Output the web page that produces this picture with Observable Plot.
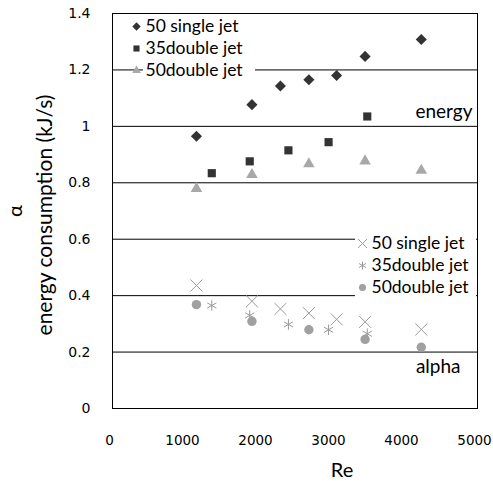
<!DOCTYPE html>
<html>
<head>
<meta charset="utf-8">
<script src="https://cdn.jsdelivr.net/npm/d3@7"></script>
<script src="https://cdn.jsdelivr.net/npm/@observablehq/plot@0.6"></script>
<style>
  html, body { margin: 0; padding: 0; background: #fff; }
  #chart svg { display: block; }
</style>
</head>
<body>
<div id="chart"></div>
<script>
// ---- data ----
const seriesNames = ["50 single jet", "35double jet", "50double jet"];

const re50single = [1150, 1910, 2300, 2690, 3070, 3460, 4230];
const re35double = [1360, 1880, 2410, 2960, 3490];
const re50double = [1150, 1910, 2690, 3460, 4230];

const energy50single = [0.965, 1.077, 1.143, 1.165, 1.180, 1.248, 1.308];
const energy35double = [0.834, 0.876, 0.915, 0.944, 1.035];
const energy50double = [0.779, 0.829, 0.867, 0.877, 0.844];

const alpha50single = [0.436, 0.380, 0.353, 0.338, 0.316, 0.307, 0.280];
const alpha35double = [0.365, 0.330, 0.298, 0.279, 0.265];
const alpha50double = [0.368, 0.309, 0.279, 0.245, 0.217];

const xTicks = [0, 1000, 2000, 3000, 4000, 5000];
const yTicks = [0, 0.2, 0.4, 0.6, 0.8, 1.0, 1.2, 1.4];
const gridValues = [0.2, 0.4, 0.6, 0.8, 1.0, 1.2];

const xLabel = "Re";
const yLabel1 = "α";
const yLabel2 = "energy consumption (kJ/s)";
const energyTag = "energy";
const alphaTag = "alpha";

// ---- build tables ----
const pts = (xs, ys) => xs.map((x, i) => ({x, y: ys[i]}));

const textFont = "Lato";
const tickFont = "DejaVu Sans";

// legend white boxes (layout only, pixel space)
function box(leftFn, topFn, w, h) {
  return (index, scales, values, dim) => {
    const r = document.createElementNS("http://www.w3.org/2000/svg", "rect");
    r.setAttribute("x", leftFn(dim));
    r.setAttribute("y", topFn(dim));
    r.setAttribute("width", w);
    r.setAttribute("height", h);
    r.setAttribute("fill", "white");
    return r;
  };
}

const energyStyles = [
  {symbol: "diamond2", fill: "#333", r: 5},
  {symbol: "square", fill: "#333", r: 4.6},
  {symbol: "triangle", fill: "#a8a8a8", r: 4.3}
];
const alphaStyles = [
  {symbol: "times", stroke: "#999", r: 5.5},
  {symbol: "asterisk", stroke: "#999", r: 5},
  {symbol: "circle", fill: "#a0a0a0", r: 4.7}
];

const legendRows = [0, 1, 2];
const legendFont = {fontFamily: textFont, fontSize: 17.5, fill: "black", lineAnchor: "middle"};

const marks = [
  Plot.ruleY(gridValues, {stroke: "black", strokeWidth: 1}),
  box(d => d.marginLeft + 31, d => d.marginTop + 1, 112, 72),
  box(d => d.width - d.marginRight - 122, d => d.marginTop + 221, 121, 76),
  Plot.frame({stroke: "black", strokeWidth: 1}),

  // energy series
  Plot.dot(pts(re50single, energy50single), {x: "x", y: "y", ...energyStyles[0]}),
  Plot.dot(pts(re35double, energy35double), {x: "x", y: "y", ...energyStyles[1]}),
  Plot.dot(pts(re50double, energy50double), {x: "x", y: "y", ...energyStyles[2]}),
  // alpha series
  Plot.dot(pts(re50single, alpha50single), {x: "x", y: "y", ...alphaStyles[0], strokeWidth: 1}),
  Plot.dot(pts(re35double, alpha35double), {x: "x", y: "y", ...alphaStyles[1], strokeWidth: 1}),
  Plot.dot(pts(re50double, alpha50double), {x: "x", y: "y", ...alphaStyles[2]}),

  // energy legend
  ...legendRows.map(i => Plot.dot([0], {frameAnchor: "top-left", dx: 24, dy: 13 + 22 * i, ...energyStyles[i], r: energyStyles[i].r * 0.75})),
  ...legendRows.map(i => Plot.text([seriesNames[i]], {text: d => d, frameAnchor: "top-left", dx: 33, dy: 13 + 22 * i, textAnchor: "start", ...legendFont})),
  // alpha legend
  ...legendRows.map(i => Plot.dot([0], {frameAnchor: "top-right", dx: -115, dy: 230 + 22 * i, ...alphaStyles[i], r: alphaStyles[i].r * 0.75, strokeWidth: 1})),
  ...legendRows.map(i => Plot.text([seriesNames[i]], {text: d => d, frameAnchor: "top-right", dx: -106, dy: 230 + 22 * i, textAnchor: "start", ...legendFont})),

  // tags
  Plot.text([energyTag], {text: d => d, frameAnchor: "top-right", dx: -5, dy: 98, textAnchor: "end", fontFamily: textFont, fontSize: 19, lineAnchor: "middle"}),
  Plot.text([alphaTag], {text: d => d, frameAnchor: "top-right", dx: -17, dy: 353, textAnchor: "end", fontFamily: textFont, fontSize: 19, lineAnchor: "middle"}),

  // axis labels
  Plot.text([xLabel], {text: d => d, frameAnchor: "bottom", dx: 47, dy: 62, textAnchor: "middle", fontFamily: textFont, fontSize: 20, lineAnchor: "middle"}),
  Plot.text([yLabel1], {text: d => d, frameAnchor: "left", dx: -97, dy: 0, rotate: -90, textAnchor: "middle", fontFamily: textFont, fontSize: 20, lineAnchor: "middle"}),
  Plot.text([yLabel2], {text: d => d, frameAnchor: "left", dx: -67, dy: 4, rotate: -90, textAnchor: "middle", fontFamily: textFont, fontSize: 21, lineAnchor: "middle"}),

  Plot.axisX({ticks: xTicks, tickSize: 0, tickPadding: 27, dx: -3, tickFormat: d => String(d), fontFamily: tickFont, fontSize: 13.5, label: null}),
  Plot.axisY({ticks: yTicks, tickSize: 0, tickPadding: 22, tickFormat: d => String(+d.toFixed(1)), fontFamily: tickFont, fontSize: 14, label: null})
];

const chart = Plot.plot({
  width: 493,
  height: 481,
  marginLeft: 112,
  marginRight: 16,
  marginTop: 13,
  marginBottom: 73,
  x: {domain: [0, 5000]},
  y: {domain: [0, 1.4]},
  style: {background: "white", color: "black", overflow: "visible"},
  marks
});
document.getElementById("chart").appendChild(chart);
</script>
</body>
</html>
